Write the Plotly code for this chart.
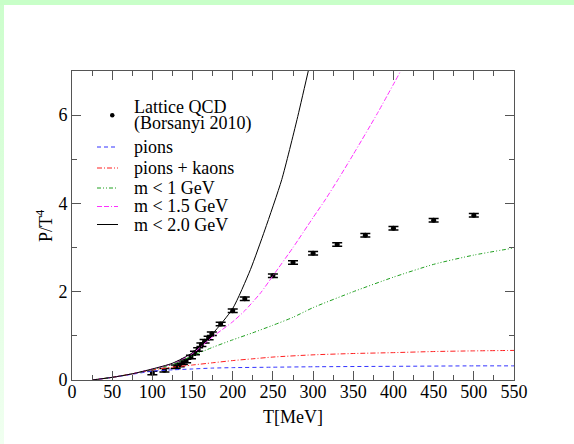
import plotly.graph_objects as go

# Lattice QCD (Borsanyi 2010)
lat_T = [100, 115, 129, 134, 138, 142, 148, 153, 157, 161, 165, 170, 174, 185, 200, 215,
         250, 275, 300, 330, 365, 400, 450, 500]
lat_P = [0.16, 0.22, 0.30, 0.34, 0.39, 0.43, 0.52, 0.61, 0.69, 0.80, 0.88, 0.95, 1.05, 1.27, 1.57, 1.84,
         2.36, 2.66, 2.87, 3.07, 3.28, 3.44, 3.62, 3.73]
lat_err = [0.04] * len(lat_T)

# pions
pi_T = [25, 50, 75, 100, 125, 150, 175, 200, 250, 300, 400, 500, 550]
pi_P = [0.0, 0.06, 0.13, 0.20, 0.23, 0.25, 0.27, 0.28, 0.29, 0.30, 0.31, 0.32, 0.32]

# pions + kaons
pk_T = [25, 50, 75, 100, 125, 150, 175, 200, 225, 250, 300, 350, 400, 450, 500, 550]
pk_P = [0.0, 0.06, 0.14, 0.23, 0.29, 0.34, 0.39, 0.44, 0.48, 0.52, 0.57, 0.60, 0.62, 0.645, 0.66, 0.67]

# m < 1 GeV
m1_T = [25, 50, 75, 100, 125, 150, 175, 200, 225, 250, 275, 300, 350, 400, 450, 500, 550]
m1_P = [0.0, 0.06, 0.14, 0.24, 0.35, 0.55, 0.74, 0.91, 1.07, 1.24, 1.42, 1.64, 2.0, 2.33, 2.62, 2.83, 2.99]

# m < 1.5 GeV
m15_T = [25, 50, 75, 100, 125, 150, 175, 200, 215, 235, 250, 275, 300, 315, 331, 350, 380, 409]
m15_P = [0.0, 0.06, 0.14, 0.25, 0.37, 0.60, 0.98, 1.32, 1.57, 1.98, 2.36, 3.0, 3.68, 4.08, 4.54, 5.11, 6.04, 7.0]

# m < 2.0 GeV
m2_T = [25, 50, 75, 100, 125, 150, 175, 200, 222, 240, 261, 280, 294]
m2_P = [0.0, 0.06, 0.14, 0.25, 0.38, 0.62, 1.05, 1.62, 2.5, 3.4, 4.54, 5.9, 7.0]

# legend labels
leg_labels = ["pions", "pions + kaons", "m < 1 GeV", "m < 1.5 GeV", "m < 2.0 GeV"]
leg_colors = ["#3333ff", "#ff2020", "#20a020", "#ff30ff", "black"]
leg_dashes = ["4px,3px", "5px,2px,1px,2px", "4px,2px,1px,2px,1px,2px", "5px,2px,5px,2px,1px,2px", "solid"]

FONT = "Liberation Serif"
L, R, T, B = 72, 60, 71, 64
W, H = 574, 444
PW, PH = W - L - R, H - T - B


def px(x):
    return (x - L) / PW


def py(y):
    return (H - B - y) / PH


fig = go.Figure()
fig.add_trace(go.Scatter(
    x=lat_T, y=lat_P, mode="markers", name="Lattice QCD (Borsanyi 2010)",
    marker=dict(color="black", size=5),
    error_y=dict(type="data", array=lat_err, color="black", thickness=1.5, width=5),
))
series = [(pi_T, pi_P), (pk_T, pk_P), (m1_T, m1_P), (m15_T, m15_P), (m2_T, m2_P)]
for (xs, ys), name, col, dash in zip(series, leg_labels, leg_colors, leg_dashes):
    fig.add_trace(go.Scatter(x=xs, y=ys, mode="lines", name=name,
                             line=dict(color=col, width=1, dash=dash, shape="spline", smoothing=0.6)))

axis_common = dict(
    showline=True, linecolor="#555555", linewidth=1, mirror="ticks",
    ticks="inside", tickcolor="#555555", ticklen=9, tickwidth=1,
    showgrid=False, zeroline=False,
    tickfont=dict(family=FONT, size=18, color="black"),
)

# manual legend (text + samples)
annotations = [
    dict(text="Lattice QCD", x=px(133), y=py(107)),
    dict(text="(Borsanyi 2010)", x=px(133), y=py(123.5)),
]
shapes = [
    dict(type="circle", xref="paper", yref="paper", x0=px(110), x1=px(114.5),
         y0=py(117.5), y1=py(113), fillcolor="black", line=dict(width=0)),
]
leg_y = [147, 168, 188, 206.5, 224.5]
for lab, col, dash, yy in zip(leg_labels, leg_colors, leg_dashes, leg_y):
    annotations.append(dict(text=lab, x=px(133), y=py(yy)))
    shapes.append(dict(type="line", xref="paper", yref="paper", x0=px(97), x1=px(118),
                       y0=py(yy), y1=py(yy), line=dict(color=col, width=1, dash=dash)))
for a in annotations:
    a.update(xref="paper", yref="paper", xanchor="left", yanchor="middle", showarrow=False,
             borderpad=0, font=dict(family=FONT, size=18, color="black"))

# axis titles
annotations.append(dict(text="T[MeV]", xref="paper", yref="paper", x=0.5, y=py(417),
                        xanchor="center", yanchor="middle", showarrow=False,
                        font=dict(family=FONT, size=18, color="black")))
annotations.append(dict(text="P/T<sup>4</sup>", xref="paper", yref="paper", x=px(45), y=py(226),
                        xanchor="center", yanchor="middle", showarrow=False, textangle=-90,
                        font=dict(family=FONT, size=18, color="black")))

fig.update_layout(
    width=W, height=H,
    margin=dict(l=L, r=R, t=T, b=B),
    paper_bgcolor="rgba(0,0,0,0)", plot_bgcolor="white",
    font=dict(family=FONT, color="black"),
    xaxis=dict(range=[0, 550], dtick=50, tick0=0, ticklabelstandoff=-5,
               minor=dict(dtick=25, ticks="inside", ticklen=5, tickcolor="#555555"),
               **axis_common),
    yaxis=dict(range=[0, 7], dtick=2, tick0=0,
               minor=dict(dtick=1, ticks="inside", ticklen=5, tickcolor="#555555"),
               **axis_common),
    showlegend=False,
    annotations=annotations,
    shapes=shapes,
)

page_js = (
    "document.documentElement.style.margin='0px';"
    "document.documentElement.style.overflow='hidden';"
    "document.body.style.margin='0px';"
    "document.body.style.overflow='hidden';"
    "document.documentElement.style.background="
    "'linear-gradient(#c8ffc8,#c8ffc8) 0 0/100% 5px no-repeat,"
    " linear-gradient(#ccfecc,#f0fff0) 0 0/4px 100% no-repeat, #ffffff';"
)
fig.write_html("out.html", config={"displayModeBar": False}, post_script=page_js)
